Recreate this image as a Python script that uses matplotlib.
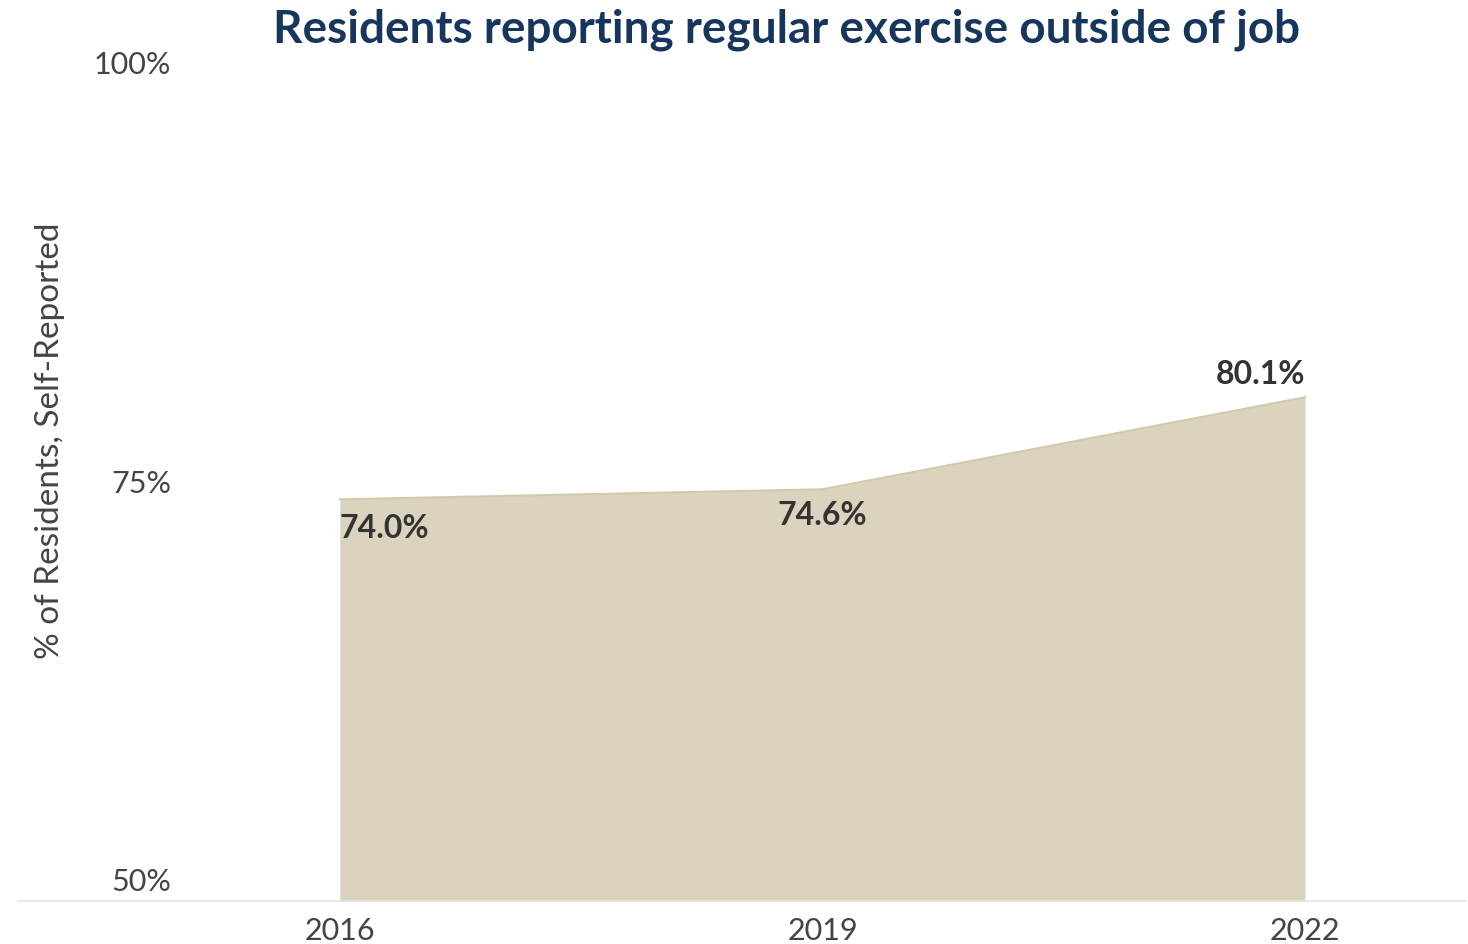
import matplotlib
matplotlib.use('Agg')
import matplotlib.pyplot as plt
import matplotlib.transforms as mtransforms

plt.rcParams['font.family'] = ['Lato', 'DejaVu Sans']

# survey years and share of residents who exercise outside of work
years = [2016, 2019, 2022]
pct = [74.0, 74.6, 80.1]
y_ticks = [50, 75, 100]
y_tick_labels = ['50%', '75%', '100%']

FILL = '#DAD3BD'
EDGE = '#D2C9AC'
NAVY = '#17365D'
GREY = '#444444'

fig = plt.figure(figsize=(14.68, 9.45), dpi=100)
ax = fig.add_axes([0.0123, 0.0455, 0.9863, 0.8855])

ax.fill_between(years, 50, pct, color=FILL, linewidth=0)
ax.plot(years, pct, color=EDGE, linewidth=1.5)
ax.set_xlim(2014, 2023)
ax.set_ylim(50, 100)

for side in ['left', 'right', 'top']:
    ax.spines[side].set_visible(False)
ax.spines['bottom'].set_color('#E3E3E3')
ax.spines['bottom'].set_linewidth(1.2)

ax.set_xticks(years)
ax.set_xticklabels([str(y) for y in years], fontsize=22, color=GREY)
ax.tick_params(axis='x', length=0, pad=11)
ax.set_yticks([])

# y labels sit inside the plot, right-aligned just left of the first year
trans = mtransforms.blended_transform_factory(ax.transData, ax.transData)
for v, lab in zip(y_ticks, y_tick_labels):
    va = 'bottom' if v == y_ticks[0] else 'center'
    off = 0.35 if v == y_ticks[0] else 0
    ax.text(2014.95, v + off, lab, ha='right', va=va, fontsize=22,
            color=GREY, transform=trans)

ax.text(0.034, 0.534, '% of Residents, Self-Reported', rotation=90,
        ha='center', va='center', fontsize=24, color=GREY,
        transform=fig.transFigure)

# value labels
ax.annotate(f'{pct[0]:.1f}%', (years[0], pct[0]), xytext=(0, -10),
            textcoords='offset points', ha='left', va='top',
            fontsize=23, fontweight='bold', color='#333333')
ax.annotate(f'{pct[1]:.1f}%', (years[1], pct[1]), xytext=(0, -8),
            textcoords='offset points', ha='center', va='top',
            fontsize=23, fontweight='bold', color='#333333')
ax.annotate(f'{pct[2]:.1f}%', (years[2], pct[2]), xytext=(0, 7),
            textcoords='offset points', ha='right', va='bottom',
            fontsize=23, fontweight='bold', color='#333333')

fig.text(0.536, 0.969, 'Residents reporting regular exercise outside of job',
         ha='center', va='center', fontsize=33, fontweight='bold', color=NAVY)

fig.savefig('out.png', dpi=100, facecolor='white')
